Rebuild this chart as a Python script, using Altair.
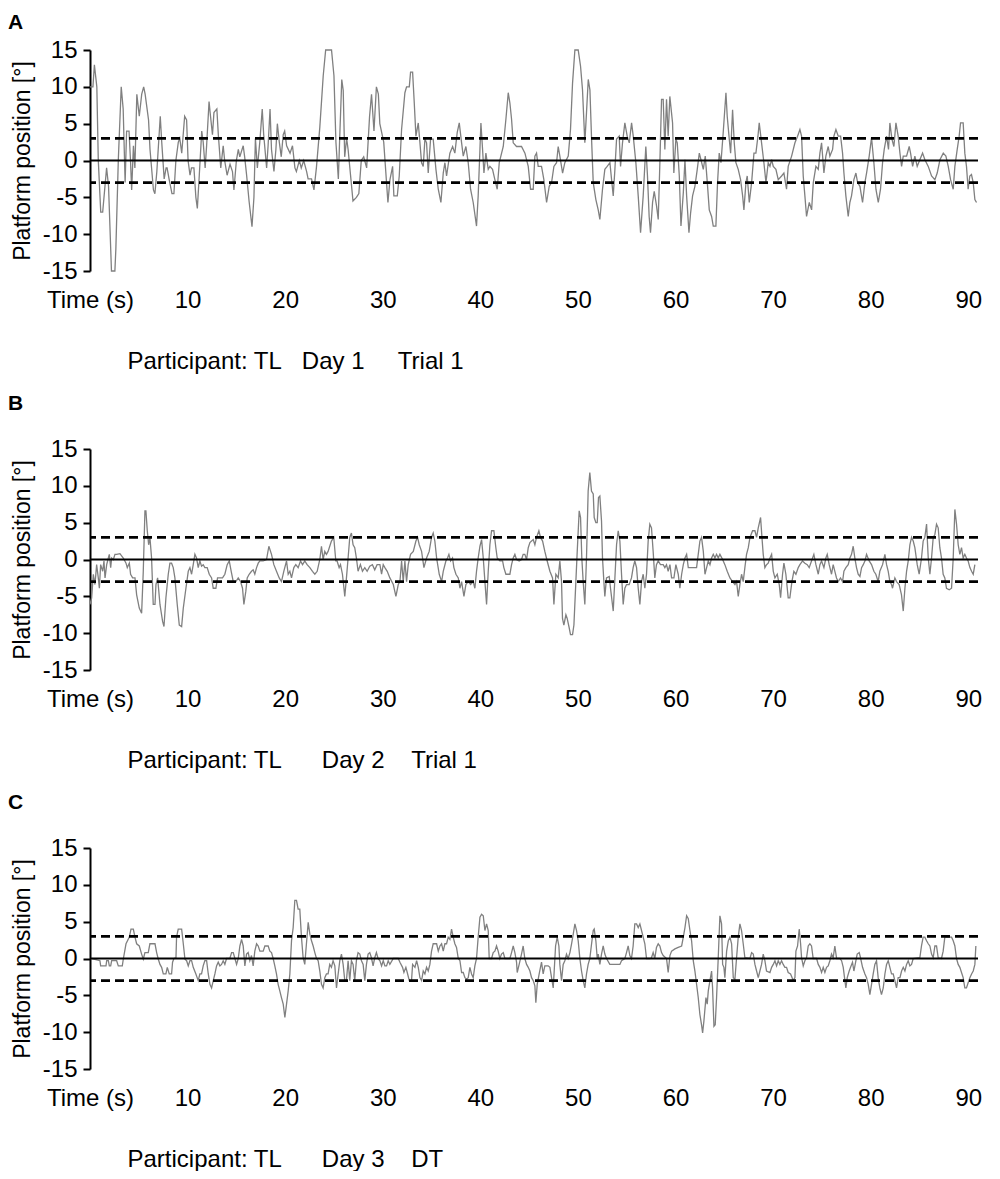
import altair as alt
import pandas as pd

FONT = "Liberation Sans"
FS = 24
X_TICKS = [0, 10, 20, 30, 40, 50, 60, 70, 80, 90]
Y_TICKS = [-15, -10, -5, 0, 5, 10, 15]
ZERO_LINE = [0]
LIMITS = [3, -3]
NB = "\u00a0"
CAPTIONS = [
    "Participant: TL" + NB * 3 + "Day 1" + NB * 5 + "Trial 1",
    "Participant: TL" + NB * 6 + "Day 2" + NB * 4 + "Trial 1",
    "Participant: TL" + NB * 6 + "Day 3" + NB * 4 + "DT",
]
LETTERS = ["A", "B", "C"]

# (time s, platform position deg)
panel_a = [
    (0.0,10),(0.3,10),(0.45,13),(0.7,10),(0.85,0),(1.1,-7),(1.3,-7),(1.7,-1),(1.9,-3.5),(2.2,-15),(2.55,-15),(2.65,-12),(2.9,0),(3.2,10),(3.4,7),(3.6,-3),(3.75,4),(4.0,4),(4.15,0),(4.27,-4),(4.45,2),(4.6,-1),(4.8,9),(5.05,6),(5.3,9),(5.5,10),(5.65,9),(6.0,5.5),(6.15,1.5),(6.5,-4),(6.65,-4.5),(6.85,-1.5),(7.2,6),(7.35,2.5),(7.6,-2.5),(7.8,-1),(7.9,-1),(8.1,-2.5),(8.4,-4.5),(8.6,-4.5),(8.8,0),(9.05,2.5),(9.2,3),(9.4,1),(9.55,3.5),(9.7,6),(9.9,5.5),(10.05,0),(10.25,-2),(10.4,-1),(10.65,-1),(10.85,-5),(11.0,-6.5),(11.2,-2),(11.45,4),(11.6,2.5),(11.8,-1),(11.95,2),(12.2,8),(12.35,6),(12.55,3.5),(12.7,6.5),(13.0,7),(13.15,3.5),(13.4,-1),(13.65,2),(13.8,0),(14.05,-2),(14.35,-0.5),(14.6,-1.5),(14.75,-4),(15.0,0),(15.2,1.5),(15.35,0.5),(15.7,2),(15.85,0.5),(16.05,-2),(16.3,-5.5),(16.6,-9),(16.8,-5),(16.95,3),(17.15,-1),(17.4,2.5),(17.65,7),(17.8,3.5),(18.1,-1),(18.25,2),(18.45,7),(18.6,1.5),(18.85,-1.5),(19.05,1.5),(19.2,5),(19.4,2.5),(19.6,0.5),(19.8,3.5),(19.95,4),(20.15,2),(20.5,1),(20.75,2),(21.0,-1),(21.15,-1.5),(21.45,0),(21.65,-1),(21.9,0),(22.2,-1.5),(22.35,-2.5),(22.7,-2.5),(22.95,-4),(23.2,-1),(23.55,4.5),(23.9,11.5),(24.15,15),(24.75,15),(25.0,11.5),(25.2,2.5),(25.45,-2.5),(25.6,3.5),(25.8,11),(25.95,9.5),(26.1,0.5),(26.3,3),(26.45,1.5),(26.7,-2),(26.95,-5.5),(27.3,-5),(27.55,-4.5),(27.8,0),(28.05,0.5),(28.35,-1),(28.65,6),(28.85,9),(29.1,4),(29.35,10),(29.55,9),(29.7,5),(30.1,2.5),
    (30.53,-5.7),(30.74,-2.6),(31.01,-0.8),(31.14,-4.8),(31.49,-4.8),(31.69,-2.1),(31.93,4.2),(32.27,9.2),(32.44,10),(32.72,10),(32.85,12),(33.06,12),(33.23,7.8),(33.4,3.3),(33.64,5.1),(33.81,2.4),(33.98,-0.3),(34.15,-0.8),(34.32,2.9),(34.49,2.4),(34.66,-1.7),(34.9,2.9),(35.17,2.9),(35.45,-1.2),(35.69,-3.9),(35.96,-5.7),(36.2,-1.7),(36.37,-0.3),(36.54,-2.1),(36.88,1.0),(37.16,1.9),(37.39,1.0),(37.63,3.8),(37.84,5.1),(38.08,2.4),(38.25,0.6),(38.52,1.9),(38.76,-0.3),(39.0,-3.9),(39.27,-5.7),(39.61,-8.9),(39.78,-4.8),(39.96,1.5),(40.06,5.1),(40.23,1.5),(40.37,-1.7),(40.57,1.0),(40.81,-1.2),(40.98,-0.8),(41.25,-1.2),(41.49,-2.6),(41.73,-3.9),(41.94,-0.3),(42.35,1.9),(42.62,5.6),(42.86,9.2),(43.03,7.8),(43.2,5.6),(43.37,2.4),(43.71,1.9),(44.22,1.9),(44.57,1.0),(44.91,-0.8),(45.15,-3.9),(45.42,-3.9),(45.59,0.6),(45.76,1.0),(45.93,-0.8),(46.27,-0.8),(46.51,-2.6),(46.79,-5.7),(47.06,-3.5),(47.3,-3.0),(47.54,-0.8),(47.81,-0.3),(47.98,1.9),(48.15,0.6),(48.43,-1.7),(48.66,-0.3),(49.01,0.6),(49.24,4.2),(49.45,10.5),(49.69,15),(50.03,15),(50.27,12.8),(50.47,9.6),(50.71,2.4),(50.88,6.5),(51.06,11),(51.23,9.6),(51.4,2.9),(51.57,-3.0),(51.84,-5.3),(52.08,-6.7),(52.25,-8),(52.52,-3.9),(52.76,-1.2),(53.0,-0.8),(53.28,-0.3),(53.45,-2.6),(53.62,-4.8),(53.79,-1.2),(53.96,2.9),(54.23,3.3),(54.37,-0.8),(54.57,2.4),(54.81,5.1),(55.05,3.3),(55.26,2.4),(55.5,5.1),(55.67,3.3),(55.94,-0.3),(56.18,-4.8),(56.42,-9.8),(56.69,-4.8),(56.96,1.9),(57.13,-2.1),(57.3,-7.6),(57.44,-9.8),(57.65,-5.7),(57.82,-4.2),(58.06,-6.2),(58.23,-8),(58.4,-0.3),(58.57,8.3),(58.74,8.3),(58.91,1.5),(59.08,8.3),(59.25,3.3),(59.42,8.7),(59.7,5.1),(59.83,-1.7),
    (60.04,2.9),(60.18,2.4),(60.39,-2.1),(60.56,-8.9),(60.8,-4.4),(60.97,0.1),(61.14,-4.8),(61.38,-9.8),(61.55,-7.1),(61.75,-4.8),(61.99,-3.5),(62.23,-1.2),(62.44,1.0),(62.61,0.1),(62.85,-1.2),(63.05,0.6),(63.26,-3.0),(63.46,-6.7),(63.7,-7.6),(63.87,-8.9),(64.14,-8.9),(64.31,-3.0),(64.48,1.0),(64.66,-0.3),(64.89,3.8),(65.17,9.2),(65.3,6.0),(65.51,2.9),(65.65,1.0),(65.85,6.9),(66.02,2.4),(66.19,-0.3),(66.43,-1.2),(66.67,-2.6),(66.88,-4.8),(67.01,-6.7),(67.22,-3.0),(67.35,-2.1),(67.56,-5.7),(67.8,-3.0),(68.04,1.0),(68.24,1.0),(68.45,3.3),(68.58,5.1),(68.82,2.4),(69.06,-0.3),(69.27,-3.0),(69.5,-0.3),(69.68,-0.8),(69.85,0.1),(70.02,-0.8),(70.29,-1.2),(70.53,-2.6),(70.87,-2.1),(71.11,-1.7),(71.38,-3.9),(71.55,-0.8),(71.9,0.6),(72.24,2.4),(72.51,3.3),(72.75,4.2),(72.92,3.3),(73.09,-2.1),(73.26,-4.8),(73.43,-7.6),(73.71,-5.7),(73.95,-6.7),(74.12,-3.0),(74.39,-0.8),(74.63,-1.2),(74.8,1.0),(74.97,2.4),(75.21,-1.7),(75.41,0.6),(75.65,1.9),(75.82,0.6),(76.1,1.5),(76.23,3.3),(76.44,4.2),(76.68,3.3),(76.92,3.3),(77.12,1.0),(77.26,-1.7),(77.46,-4.8),(77.7,-7.6),(77.87,-5.7),(78.04,-4.8),(78.28,-2.6),(78.49,-1.7),(78.66,-3.0),(78.9,-3.5),(79.17,-5.7),(79.41,-3.0),(79.58,-1.7),(79.85,0.6),(80.09,3.1),(80.33,-0.3),(80.54,-3.9),(80.78,-5.7),(81.01,-3.9),(81.22,-0.3),(81.39,1.5),(81.63,3.3),(81.83,1.5),(81.97,5.1),(82.18,2.9),(82.38,1.9),(82.59,5.1),(82.82,3.3),(83.0,1.0),(83.17,-0.8),(83.34,0.6),(83.68,0.6),(83.95,1.9),(84.09,1.0),(84.3,-0.8),(84.53,0.6),(84.77,-0.8),(85.04,0.1),(85.32,1.0),(85.56,0.1),(85.9,-0.8),(86.24,-2.1),(86.58,-2.6),(86.82,-1.7),(87.1,0.1),(87.44,1.0),(87.71,0.6),(87.95,-0.8),(88.19,-2.6),(88.46,-3.9),(88.63,-0.8),(88.87,1.5),(89.07,3.3),(89.21,5.1),(89.48,5.1),(89.65,1.0),(89.82,-0.8),(89.99,-3.9),(90.16,-2.1),(90.33,-1.9),(90.51,-3.0),(90.68,-5.3),(90.85,-5.7),
]

panel_b = [
    (0,-6.1),(0.17,-5.2),(0.34,-2.0),(0.51,-3.4),(0.68,-0.7),(0.85,-2.5),(0.96,-3.9),(1.09,-0.7),(1.3,-1.6),(1.43,-0.2),(1.54,-2.5),(1.71,-0.7),(1.88,0.2),(1.98,0.7),(2.12,-1.1),(2.22,0.2),(2.39,0),(2.56,0.7),(2.73,0.7),(3.07,0.8),(3.41,0.2),(3.69,-0.5),(3.82,-1.1),(4.03,-0.5),(4.16,-2.0),(4.37,-2.5),(4.61,-2.5),(4.78,-4.8),(5.05,-6.6),(5.29,-7.3),(5.46,-1.6),(5.63,6.6),(5.73,6.6),(5.87,3.9),(6.01,2.0),(6.14,3.0),(6.31,0.2),(6.48,-6.1),(6.66,-6.1),(6.76,-3.4),(6.93,-2.5),(7.17,-6.1),(7.44,-8.4),(7.58,-9.1),(7.78,-5.2),(8.02,-2.0),(8.19,-0.5),(8.36,-0.5),(8.53,-1.1),(8.7,-2.5),(8.94,-6.1),(9.15,-8.9),(9.39,-9.1),(9.56,-6.6),(9.83,-3.9),(10.07,-1.6),(10.24,-1.1),(10.41,-2.0),(10.58,-0.7),(10.75,0.7),(10.92,0.2),(11.09,-1.1),(11.26,-0.2),(11.43,-0.9),(11.6,-0.7),(11.77,-1.1),(12.01,-1.1),(12.22,-2.0),(12.46,-2.5),(12.63,-3.9),(12.9,-3.9),(13.07,-2.5),(13.31,-2.5),(13.58,-2.5),(13.82,-2.0),(14.06,-0.7),(14.27,-0.2),(14.47,-1.6),(14.68,-3.0),(14.95,-3.0),(15.19,-2.5),(15.43,-3.0),(15.63,-3.9),(15.77,-6.1),(15.97,-4.3),(16.11,-2.5),(16.31,-2.0),(16.55,-1.6),(16.72,-1.4),(16.89,-2.0),(17.07,-1.1),(17.24,-0.5),(17.41,-0.2),(17.75,-0.2),(18.09,0),(18.33,1.8),(18.6,0.7),(18.84,-0.7),(19.11,-1.6),(19.39,-2.5),(19.62,-3.0),(19.86,-1.6),(20.14,-0.2),(20.31,-2.0),(20.48,-1.6),(20.65,-2.5),(20.89,-1.1),(21.09,-0.7),(21.33,-1.1),(21.57,-0.2),(21.78,-0.7),(22.01,-0.2),(22.25,-0.7),(22.53,-1.1),(22.8,-1.6),(23.04,-2.0),(23.28,-1.6),(23.55,0),(23.72,1.8),(23.89,0),(24.06,1.1),(24.23,0.7),(24.4,1.1),(24.57,1.8),(24.74,2.5),(24.98,3.0),(25.19,-0.2),(25.32,-0.2),(25.53,-1.1),(25.67,-0.7),(25.87,-2.0),(26.11,-5.0),(26.28,-2.5),(26.45,0.2),(26.62,3.0),(26.79,3.6),(26.96,2.0),(27.13,1.6),(27.3,0.2),(27.47,-1.6),(27.71,-0.7),(27.92,-1.6),(28.16,-1.1),(28.4,-1.6),(28.67,-0.9),(28.94,-0.7),(29.18,-1.4),(29.42,-0.7),
    (29.71,-0.7),(29.88,-2.0),(30.05,-0.7),(30.22,-1.1),(30.46,-1.6),(30.73,-2.5),(31.08,-3.4),(31.35,-5.0),(31.59,-3.4),(31.76,-3.0),(31.93,-0.2),(32.1,-3.0),(32.27,-0.2),(32.44,-3.0),(32.61,-0.7),(32.85,0.7),(33.13,1.1),(33.4,2.5),(33.57,3.0),(33.74,2.0),(33.98,1.1),(34.22,-1.1),(34.49,0.2),(34.76,1.1),(35.0,3.0),(35.17,3.6),(35.34,2.5),(35.52,0.2),(35.79,-2.0),(36.03,-3.0),(36.2,-1.6),(36.47,-0.2),(36.64,0.2),(36.78,0.7),(36.95,-0.2),(37.15,0.2),(37.29,-1.1),(37.5,-2.0),(37.74,-2.5),(37.91,-3.9),(38.08,-3.0),(38.32,-5.0),(38.52,-3.4),(38.76,-3.0),(39.0,-3.4),(39.27,-3.0),(39.44,-3.9),(39.61,-1.6),(39.78,0.2),(39.96,1.8),(40.13,2.7),(40.3,0.2),(40.47,-3.0),(40.64,-6.1),(40.81,-1.6),(40.98,2.0),(41.15,3.9),(41.39,3.9),(41.59,1.6),(41.73,0.2),(42.0,-0.2),(42.28,-0.2),(42.41,-1.1),(42.62,-2.0),(42.86,-2.0),(43.03,-2.0),(43.2,-0.7),(43.37,0.2),(43.54,0.7),(43.71,0),(43.98,-0.2),(44.22,0),(44.39,0.7),(44.56,0.7),(44.74,0),(44.91,1.6),(45.08,2.3),(45.25,2.5),(45.42,2.7),(45.59,2.0),(45.76,3.0),(46.0,3.9),(46.17,3.0),(46.38,2.5),(46.61,1.1),(46.85,-0.2),(47.13,-1.6),(47.4,-2.5),(47.54,-6.1),(47.74,-2.0),(47.98,-2.5),(48.15,-0.2),(48.32,-3.0),(48.42,-8.0),(48.56,-8.9),(48.77,-7.5),(48.9,-8.0),(49.11,-9.3),(49.24,-10.2),(49.45,-10.2),(49.59,-8.9),(49.79,-3.0),(49.93,1.1),(50.13,6.6),(50.27,5.7),(50.4,0.2),(50.54,-3.0),(50.71,-6.1),(50.88,0.2),(51.05,9.3),(51.22,11.8),(51.39,9.3),(51.57,8.9),(51.67,5.7),(51.84,5.0),(51.98,5.0),(52.11,8.4),(52.25,8.6),(52.42,5.2),(52.52,0.2),(52.66,-3.0),(52.76,-5.0),(52.93,-2.5),(53.21,-2.3),(53.34,-3.9),(53.62,-7.0),(53.79,-2.5),(53.96,2.0),(54.13,3.9),(54.3,2.5),(54.47,-2.0),(54.64,-6.1),(54.81,-3.9),(54.98,-3.4),(55.25,-3.4),(55.49,-2.5),(55.66,-1.1),(55.83,-0.2),(56.01,-1.1),(56.18,-3.9),(56.35,-6.1),(56.52,-3.0),(56.69,-2.0),(56.86,-3.9),(57.03,-2.0),(57.2,2.5),(57.37,4.8),(57.54,4.3),(57.71,1.1),(57.88,-2.5),(58.05,-0.7),(58.23,-0.2),(58.46,-0.7),(58.74,-0.7),(58.91,-1.1),(59.08,-0.7),(59.25,-1.6),
    (59.43,-0.7),(59.6,-2.5),(59.84,-2.5),(60.04,-0.7),(60.28,-2.0),(60.45,-3.9),(60.63,-2.0),(60.8,-0.7),(60.97,0.2),(61.14,0.7),(61.31,-1.1),(61.55,-1.1),(61.82,-1.1),(62.16,-1.1),(62.33,0.7),(62.5,2.5),(62.67,3.0),(62.85,1.1),(63.02,-2.0),(63.19,-1.1),(63.36,-0.2),(63.53,-0.7),(63.7,0.2),(63.87,0.7),(64.04,0.2),(64.21,0.7),(64.38,0.2),(64.55,0.7),(64.83,0),(65.06,-0.7),(65.3,-1.6),(65.58,-2.5),(65.85,-3.0),(66.09,-3.4),(66.26,-3.0),(66.43,-5.0),(66.6,-3.4),(66.77,-2.0),(66.94,-3.0),(67.11,-1.1),(67.28,0.7),(67.46,1.6),(67.63,3.0),(67.9,3.9),(68.14,3.9),(68.31,3.0),(68.48,4.3),(68.72,5.7),(68.86,3.0),(68.99,0.7),(69.16,-1.1),(69.33,-0.7),(69.5,-0.5),(69.68,0.2),(69.85,0.7),(70.02,-1.6),(70.19,-2.5),(70.43,-2.0),(70.63,-3.4),(70.77,-5.2),(70.97,-2.0),(71.11,-0.5),(71.31,-2.0),(71.55,-5.2),(71.72,-5.2),(71.93,-3.0),(72.13,-1.6),(72.34,-2.0),(72.58,-1.1),(72.75,-0.7),(73.02,-0.2),(73.26,-0.5),(73.5,-0.7),(73.7,-1.1),(73.94,-0.2),(74.18,0.7),(74.39,-0.7),(74.63,-2.0),(74.8,-0.7),(74.97,-0.2),(75.21,-1.1),(75.41,0.2),(75.55,0.7),(75.75,-0.7),(75.99,-2.0),(76.16,-0.7),(76.33,-1.6),(76.5,-2.5),(76.68,-3.0),(76.91,-2.5),(77.12,-3.0),(77.26,-1.6),(77.46,-1.1),(77.7,-0.7),(77.87,0.2),(78.04,0.7),(78.21,1.8),(78.38,0.2),(78.55,-1.1),(78.72,-2.0),(78.9,-2.3),(79.07,-1.1),(79.24,-0.7),(79.41,-0.2),(79.58,0.7),(79.85,-0.2),(80.09,-0.7),(80.33,-1.6),(80.53,-2.0),(80.77,-3.0),(80.94,-1.6),(81.22,-0.7),(81.46,0.7),(81.63,-0.7),(81.8,-1.6),(81.97,-3.0),(82.14,-3.4),(82.24,-3.9),(82.48,-2.5),(82.65,-3.0),(82.92,-3.4),(83.16,-4.8),(83.34,-7.0),(83.51,-3.9),(83.68,-1.6),(83.85,-0.2),(84.02,2.0),(84.19,3.0),(84.36,2.5),(84.53,1.6),(84.77,-0.7),(84.97,-2.0),(85.21,0.2),(85.38,2.5),(85.55,3.0),(85.73,4.8),(85.9,0.2),(86.07,-2.0),(86.24,0.2),(86.41,3.0),(86.58,3.4),(86.75,4.8),(86.92,4.3),(87.09,1.6),(87.26,0.2),(87.43,-2.0),(87.6,-2.5),(87.77,-3.9),(88.05,-4.1),(88.29,-3.9),(88.46,0.2),(88.63,6.8),(88.8,4.8),(88.97,2.0),(89.14,0.7),(89.31,1.6),(89.48,0.2),(89.65,0.7),(89.82,0.2),(89.99,-0.2),(90.17,-1.1),(90.34,-1.6),(90.51,-2.0),(90.68,-0.7),
]

panel_c = [
    (0.17,0),(1.02,-0.3),(1.09,-1.0),(1.64,-1.0),(1.71,-0.3),(1.88,-0.3),(1.98,-1.0),(2.12,-1.0),(2.22,-0.3),(2.73,-0.3),(2.9,-1.0),(3.31,-1.0),(3.41,-0.1),(3.69,2.0),(4.03,2.9),(4.2,4.0),(4.44,4.0),(4.61,2.9),(4.78,2.0),(5.05,1.7),(5.29,0.6),(5.46,-0.1),(5.63,0.8),(5.97,0.8),(6.14,2.0),(6.66,2.0),(6.83,0.8),(7.0,-0.1),(7.17,-0.8),(7.34,-1.2),(7.51,-2.1),(7.78,-2.1),(7.92,-1.2),(8.12,-2.1),(8.36,-2.1),(8.46,-0.5),(8.6,0),(8.81,0.1),(8.87,2.9),(9.04,4.0),(9.39,4.0),(9.56,2.0),(9.73,-0.1),(9.9,-0.3),(10.07,-1.0),(10.24,-0.3),(10.41,-0.3),(10.58,-1.2),(10.85,-2.1),(11.09,-3.0),(11.26,-2.1),(11.43,-2.1),(11.6,-1.0),(11.77,-0.3),(11.95,-0.3),(12.12,-2.1),(12.29,-3.5),(12.46,-4.0),(12.63,-3.0),(12.8,-2.1),(12.97,-1.0),(13.14,-0.5),(13.31,-1.0),(13.48,-0.8),(13.65,-0.3),(13.82,-0.8),(13.99,0),(14.33,0),(14.51,0.8),(14.68,0.8),(14.85,0),(15.02,-0.8),(15.19,0),(15.36,1.7),(15.53,2.6),(15.7,1.7),(15.87,-1.0),(16.04,0.6),(16.21,0.8),(16.38,-0.3),(16.55,0.4),(16.72,-1.0),(16.89,1.0),(17.07,2.0),(17.24,1.7),(17.41,1.0),(17.75,1.0),(17.92,1.7),(18.26,1.7),(18.43,1.0),(18.6,0.8),(18.77,0),(18.94,-1.0),(19.11,-2.1),(19.28,-3.5),(19.45,-4.4),(19.62,-5.3),(19.8,-6.2),(19.97,-8.0),(20.14,-6.2),(20.31,-4.4),(20.48,-2.1),(20.65,2.4),(20.82,4.2),(20.99,7.9),(21.16,7.9),(21.33,6.7),(21.5,6.7),(21.67,2.9),(21.84,0.1),(22.01,-0.8),(22.18,2.0),(22.36,4.9),(22.53,3.3),(22.7,2.4),(22.87,1.7),(23.04,0.8),(23.21,0),(23.38,-0.3),(23.55,-1.7),(23.72,-3.5),(23.89,-4.0),(24.06,-2.6),(24.23,-2.1),(24.4,-2.1),(24.57,-0.8),(24.74,-1.2),(24.91,-0.3),(25.09,-1.0),(25.26,-4.0),(25.43,-2.1),(25.6,-0.3),(25.77,0.6),(25.94,-0.8),(26.11,-3.0),(26.28,-3.0),(26.45,-0.3),(26.62,-3.0),(26.79,-0.3),(26.96,-0.8),(27.13,-3.0),(27.3,-0.3),(27.47,0.8),(27.65,0.6),(27.82,-0.3),(27.99,-0.8),(28.16,-3.0),(28.33,-0.8),(28.5,0.6),(28.67,0.8),(28.84,0.1),(29.01,-1.0),(29.18,0.1),(29.35,0.8),(29.52,0),
    (29.71,-0.3),(29.88,-1.0),(30.05,-0.3),(30.22,-1.0),(30.39,-1.0),(30.56,-0.3),(30.73,-0.8),(31.08,0),(31.59,0),(31.76,-0.5),(32.03,-1.2),(32.17,-1.9),(32.37,-1.2),(32.51,-1.9),(32.72,-3.0),(32.95,-3.0),(33.06,-0.8),(33.3,-1.2),(33.47,-0.3),(33.64,-1.2),(33.81,-2.6),(33.98,-3.0),(34.15,-1.7),(34.32,-2.1),(34.49,-1.2),(34.66,-1.7),(34.83,-0.8),(35.0,1.0),(35.17,2.0),(35.52,2.0),(35.69,1.0),(35.86,1.7),(36.03,2.0),(36.2,1.0),(36.37,2.0),(36.54,2.0),(36.71,2.9),(36.88,2.6),(37.05,4.0),(37.22,2.9),(37.39,2.0),(37.56,1.5),(37.74,0),(37.91,-0.3),(38.08,-1.9),(38.25,-1.9),(38.42,-2.6),(38.59,-2.8),(38.76,-2.6),(38.93,-1.2),(39.1,-2.1),(39.27,-2.6),(39.44,-1.0),(39.61,0),(39.78,2.9),(39.96,5.6),(40.13,6.0),(40.3,5.8),(40.47,3.8),(40.64,4.7),(40.81,3.8),(40.91,0),(41.15,0),(41.32,0.8),(41.49,1.0),(41.66,1.7),(41.83,1.0),(42.0,0),(42.17,0.6),(42.35,0.8),(42.52,0),(43.03,0),(43.2,0.8),(43.37,1.7),(43.54,0.8),(43.71,-0.5),(43.78,-1.9),(43.98,-0.8),(44.22,0.6),(44.39,1.7),(44.56,0),(44.74,-0.8),(44.91,-1.2),(45.08,-1.7),(45.25,-2.6),(45.42,-3.0),(45.59,-3.7),(45.69,-6.0),(45.83,-3.5),(46.03,-2.1),(46.27,-0.5),(46.44,-2.1),(46.61,-1.0),(46.95,-1.0),(47.13,-1.2),(47.3,-2.6),(47.47,-4.0),(47.57,-1.7),(47.71,1.7),(47.88,2.9),(48.05,1.7),(48.15,-0.8),(48.32,-3.0),(48.49,-0.8),(48.66,-0.3),(48.83,0.6),(49.0,0),(49.18,0.8),(49.35,2.0),(49.52,3.3),(49.69,4.7),(49.86,3.8),(50.03,2.4),(50.2,0),(50.37,-1.7),(50.54,-3.0),(50.71,-4.0),(50.88,-2.1),(51.05,-0.8),(51.22,0),(51.4,2.0),(51.57,3.8),(51.67,4.0),(51.84,2.4),(51.98,0),(52.08,0.6),(52.25,-0.8),(52.42,0.6),(52.59,1.7),(52.76,0.6),(52.93,0),(53.27,-0.8),(54.3,-0.8),(54.47,-0.3),(54.81,0),(54.98,0.8),(55.15,1.7),(55.32,0.4),(55.49,0),(55.66,1.7),(55.83,4.7),(56.01,4.7),(56.18,4.2),(56.35,4.7),(56.52,3.8),(56.69,2.9),(56.86,2.0),(57.03,0),(57.37,0),(57.54,0.1),(57.71,0.8),(57.88,0),(58.05,1.5),(58.23,2.0),(58.4,1.7),(58.57,0.8),(58.74,0.4),(59.08,0),(59.25,-1.9),
    (59.43,0.4),(59.6,1.0),(59.94,1.3),(60.28,1.5),(60.63,1.7),(60.8,2.9),(60.97,4.2),(61.14,5.8),(61.31,5.4),(61.48,3.8),(61.65,2.4),(61.82,-0.3),(61.99,-1.7),(62.16,-3.5),(62.33,-5.3),(62.5,-7.6),(62.67,-9.0),(62.78,-10.1),(62.91,-8.5),(63.12,-5.3),(63.25,-6.2),(63.36,-4.4),(63.53,-3.0),(63.7,-1.7),(63.8,-4.0),(63.94,-9.2),(64.07,-9.0),(64.21,-5.3),(64.38,0.1),(64.55,5.8),(64.72,4.7),(64.83,-0.8),(64.96,-1.2),(65.06,-2.6),(65.24,1.0),(65.41,2.4),(65.58,2.9),(65.75,2.0),(65.92,-2.6),(66.09,-2.8),(66.26,0.1),(66.43,2.9),(66.6,4.7),(66.77,3.8),(66.94,2.0),(67.11,0.1),(67.63,0),(67.8,0.8),(67.97,0.6),(68.14,-0.8),(68.31,-1.7),(68.48,-2.6),(68.65,-1.7),(68.82,-0.8),(68.99,0.6),(69.16,-0.3),(69.33,-1.7),(69.68,-1.9),(69.85,-1.2),(70.02,-0.8),(70.19,-0.3),(70.36,-1.0),(70.53,-0.3),(70.7,-0.8),(70.87,-0.3),(71.04,-0.8),(71.21,-1.2),(71.38,-1.2),(71.55,-1.9),(71.79,-2.1),(72.07,-3.0),(72.24,-2.6),(72.34,1.0),(72.51,1.7),(72.68,4.0),(72.82,2.0),(72.92,0.1),(73.09,-1.0),(73.26,-0.3),(73.43,0.1),(73.6,1.7),(73.77,2.0),(73.94,1.7),(74.11,0),(74.46,0),(74.63,-0.8),(74.8,-1.2),(74.97,-1.9),(75.14,-1.2),(75.31,-1.9),(75.48,-1.2),(75.65,-1.0),(75.82,-0.3),(75.99,0.6),(76.16,0.1),(76.33,1.7),(76.51,0),(76.85,0),(77.02,-0.3),(77.19,-1.2),(77.36,-3.0),(77.46,-4.0),(77.6,-2.6),(77.8,-1.7),(77.94,-1.2),(78.14,-0.5),(78.28,-1.7),(78.49,-0.3),(78.62,0.6),(78.83,0.8),(78.96,0.1),(79.17,-1.2),(79.41,-2.1),(79.58,-2.6),(79.75,-3.5),(79.92,-4.9),(80.09,-3.5),(80.26,-2.1),(80.43,-0.8),(80.6,-0.3),(80.77,-2.6),(80.94,-4.0),(81.11,-4.9),(81.29,-4.0),(81.46,-2.1),(81.63,-0.8),(81.8,-0.3),(81.97,-1.2),(82.14,-2.1),(82.31,-2.1),(82.48,-3.0),(82.65,-4.0),(82.82,-2.6),(83.0,-2.6),(83.17,-1.7),(83.34,-1.2),(83.51,-1.7),(83.68,-0.8),(83.85,-0.3),(84.02,-1.0),(84.19,-0.8),(84.36,0),(85.04,0.1),(85.21,1.7),(85.38,2.9),(85.55,2.9),(85.73,2.4),(85.9,2.0),(86.07,1.7),(86.24,0.6),(86.41,0.1),(86.58,1.7),(86.75,1.7),(86.92,0.1),(87.26,0),(87.43,1.0),(87.6,2.9),(88.29,2.9),(88.46,2.4),(88.63,1.7),(88.8,0),(88.97,-0.8),(89.14,-1.2),(89.31,-1.9),(89.48,-2.6),(89.65,-4.0),(89.82,-4.0),(89.99,-3.3),(90.17,-2.6),(90.34,-2.1),(90.51,-1.7),(90.68,-0.8),(90.78,1.7),
]

PANELS = [panel_a, panel_b, panel_c]
TITLE_OFFSETS = [-12, 6, 6]


def make_panel(letter, pts, caption, offset):
    df = pd.DataFrame(pts, columns=["t", "v"])
    df["i"] = range(len(df))
    x = alt.X(
        "t:Q",
        scale=alt.Scale(domain=[0, 91], nice=False, zero=False),
        axis=alt.Axis(
            values=X_TICKS,
            labelExpr="datum.value == 0 ? 'Time (s)' : datum.label",
            domain=False, ticks=False, tickSize=0, grid=False,
            labelPadding=17, labelFlush=False, labelOverlap=False,
            labelFont=FONT, labelFontSize=FS, labelColor="black",
            title=caption, titleX=37, titleY=97, titleAlign="left",
            titleBaseline="alphabetic", titleFont=FONT, titleFontSize=FS,
            titleFontWeight="normal", titleColor="black",
        ),
    )
    y = alt.Y(
        "v:Q",
        scale=alt.Scale(domain=[-15, 15], nice=False, zero=False),
        axis=alt.Axis(
            values=Y_TICKS, labelExpr="datum.value + ''", grid=False,
            domainColor="black", domainWidth=2, tickColor="black", tickWidth=2,
            tickSize=7, labelPadding=6, labelOverlap=False,
            labelFont=FONT, labelFontSize=FS, labelColor="black",
            title="Platform position [°]", titleX=-68, titleY=110.5, titleAngle=270,
            titleBaseline="middle", titleAlign="center", titleFont=FONT,
            titleFontSize=23, titleFontWeight="normal", titleColor="black",
        ),
    )
    line = alt.Chart(df).mark_line(color="#808080", strokeWidth=1.3).encode(
        x=x, y=y, order="i:Q"
    )
    band = alt.Chart(pd.DataFrame({"v": LIMITS})).mark_rule(
        color="black", strokeWidth=2.8, strokeDash=[9, 5]
    ).encode(y=y)
    zero = alt.Chart(pd.DataFrame({"v": ZERO_LINE})).mark_rule(
        color="black", strokeWidth=2
    ).encode(y=y)
    return alt.layer(line, band, zero).properties(
        width=888, height=221,
        title=alt.TitleParams(
            letter, anchor="start", frame="group", dx=-82, offset=offset,
            fontSize=21, fontWeight="bold", font=FONT, color="black",
            baseline="alphabetic",
        ),
    )


charts = [make_panel(l, p, c, o) for l, p, c, o in zip(LETTERS, PANELS, CAPTIONS, TITLE_OFFSETS)]
chart = alt.vconcat(*charts, spacing=178, bounds="flush").properties(
    padding={"top": 4, "left": 0, "right": 0, "bottom": 0}, background="white"
).configure_view(stroke=None)

chart.save("out.html", embed_options={"renderer": "svg", "actions": False})
